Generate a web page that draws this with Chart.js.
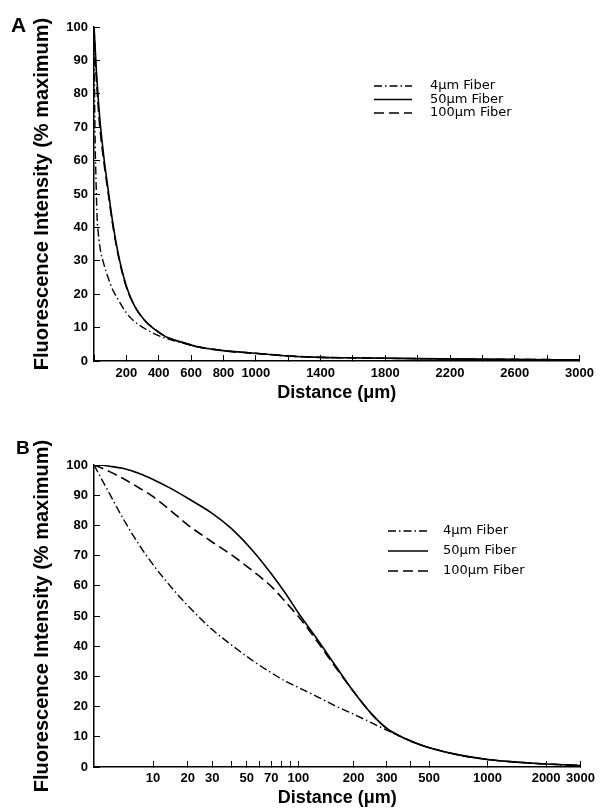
<!DOCTYPE html>
<html>
<head>
<meta charset="utf-8">
<script src="https://cdn.jsdelivr.net/npm/chart.js@4.4.1/dist/chart.umd.min.js"></script>
<style>
  html, body { margin: 0; padding: 0; background: #fff; }
  canvas { display: block; }
</style>
</head>
<body>
<canvas id="chartA" width="605" height="405"></canvas>
<canvas id="chartB" width="605" height="407"></canvas>
<script>
// series names
const fibers = ["4μm Fiber", "50μm Fiber", "100μm Fiber"];

// panel A : linear distance axis (μm)
const distA = [0, 3, 6, 12, 20, 24, 37, 61, 87, 114, 148, 199, 250, 311, 380, 443, 550, 646, 800, 1000, 1200, 1400, 1700, 2000, 2500, 3000];
const fiber4A = [100, 83, 69, 55, 42, 39.5, 34, 29, 25, 21.5, 18.5, 14.5, 11.8, 9.8, 8, 6.8, 5.4, 4.3, 3.1, 2.3, 1.5, 1.1, 0.9, 0.7, 0.5, 0.35];
const fiber50A = [100, 97.5, 95, 89, 83, 80, 72, 61, 51.5, 42, 32.5, 22.5, 16.5, 12.3, 9.3, 7.3, 5.5, 4.2, 3.1, 2.3, 1.5, 1.1, 0.9, 0.7, 0.5, 0.35];
const fiber100A = [100, 96.5, 93, 87, 80.5, 77.5, 69.5, 59.5, 50.5, 41.3, 32, 22.3, 16.5, 12.3, 9.3, 7.3, 5.5, 4.2, 3.1, 2.3, 1.5, 1.1, 0.9, 0.7, 0.5, 0.35];
const ticksA = [0, 200, 400, 600, 800, 1000, 1200, 1400, 1600, 1800, 2000, 2200, 2400, 2600, 2800, 3000];
const labelsA = [200, 400, 600, 800, 1000, 1400, 1800, 2200, 2600, 3000];

// panel B : log(distance + 10) axis
const distB = [0, 1, 2, 4, 7, 10, 15, 20, 30, 40, 55, 70, 85, 100, 130, 160, 200, 250, 300, 400, 500, 700, 1000, 1500, 2000, 3000];
const fiber4B = [100, 95, 90.5, 82.5, 73.5, 67, 59.2, 53.5, 45.5, 40.5, 35, 31.2, 28.3, 26.3, 23, 20.2, 17.5, 14.6, 12.2, 8.6, 6.4, 4.1, 2.5, 1.5, 1, 0.5];
const fiber50B = [100, 99.9, 99.6, 98.9, 97.2, 95.2, 92, 89, 84, 79, 71.3, 64, 57.3, 51, 41.5, 33.5, 25, 17.5, 12.8, 8.6, 6.4, 4.1, 2.5, 1.5, 1, 0.5];
const fiber100B = [100, 98.9, 97.8, 95.6, 92.4, 89.5, 84.5, 80.2, 74.5, 70.3, 64.7, 59.8, 54.5, 49.8, 40.8, 33, 25, 17.5, 12.8, 8.6, 6.4, 4.1, 2.5, 1.5, 1, 0.5];
const ticksB = [10, 20, 30, 40, 50, 60, 70, 80, 90, 100, 200, 300, 400, 500, 1000, 2000, 3000];
const labelsB = [10, 20, 30, 50, 70, 100, 200, 300, 500, 1000, 2000, 3000];

const yTicks = [0, 10, 20, 30, 40, 50, 60, 70, 80, 90, 100];

const logX = d => Math.log10(d + 10);

const styles = [
  { borderDash: [8, 3, 1.5, 3], borderWidth: 1.4 },
  { borderDash: [], borderWidth: 1.6 },
  { borderDash: [10, 5], borderWidth: 1.6 },
];

function makeSets(xs, series, fx) {
  return series.map((vals, i) => ({
    label: fibers[i],
    data: xs.map((d, j) => ({ x: fx(d), y: vals[j] })),
    borderColor: '#000',
    borderWidth: styles[i].borderWidth,
    borderDash: styles[i].borderDash,
    pointRadius: 0,
    fill: false,
    tension: 0.4,
    cubicInterpolationMode: 'monotone',
  }));
}

const legendPlugin = {
  id: 'fiberLegend',
  afterDraw(chart, args, opts) {
    const ctx = chart.ctx;
    ctx.save();
    ctx.fillStyle = '#000';
    ctx.strokeStyle = '#000';
    ctx.textBaseline = 'middle';
    ctx.font = opts.font;
    chart.data.datasets.forEach((ds, i) => {
      const y = opts.y + i * opts.rowGap;
      ctx.beginPath();
      ctx.setLineDash(ds.borderDash);
      ctx.lineWidth = ds.borderWidth;
      ctx.moveTo(opts.x, y);
      ctx.lineTo(opts.x + opts.lineLen, y);
      ctx.stroke();
      ctx.setLineDash([]);
      ctx.fillText(ds.label, opts.textX, y);
    });
    ctx.font = opts.letterFont;
    ctx.fillText(opts.letter, opts.letterX, opts.letterY);
    ctx.restore();
  }
};

const tickFont = { family: 'Liberation Sans, Arial, sans-serif', size: 13, weight: 'bold' };

function yScale() {
  return {
    min: 0, max: 100,
    afterBuildTicks: s => { s.ticks = yTicks.map(v => ({ value: v })); },
    afterFit: s => { s.width = 94; },
    grid: { drawOnChartArea: false, tickLength: -6, color: '#000', lineWidth: 1 },
    border: { color: '#000', width: 1.5 },
    ticks: { color: '#000', font: tickFont, padding: 12 },
    title: {
      display: true, text: 'Fluorescence Intensity (% maximum)', color: '#000',
      font: { family: 'Liberation Sans, Arial, sans-serif', size: 20, weight: 'bold' },
      padding: { top: 30, bottom: 0 }
    }
  };
}

function xTitle(pb) {
  return {
    display: true, text: 'Distance (μm)', color: '#000',
    font: { family: 'Liberation Sans, Arial, sans-serif', size: 18, weight: 'bold' },
    padding: { top: 0, bottom: pb }
  };
}

const chartA = new Chart(document.getElementById('chartA'), {
  type: 'line',
  data: { datasets: makeSets(distA, [fiber4A, fiber50A, fiber100A], d => d) },
  options: {
    responsive: false, animation: false, devicePixelRatio: 1,
    layout: { padding: { top: 27, right: 19, left: 0, bottom: 0 } },
    plugins: {
      legend: { display: false }, tooltip: { enabled: false },
      fiberLegend: {
        x: 374, lineLen: 38, textX: 430, y: 86, rowGap: 13.5,
        font: '13px "DejaVu Sans", sans-serif',
        letter: 'A', letterX: 11, letterY: 26, letterFont: 'bold 21px "Liberation Sans", Arial, sans-serif'
      }
    },
    scales: {
      x: {
        type: 'linear', min: 0, max: 3000,
        afterBuildTicks: s => { s.ticks = ticksA.map(v => ({ value: v })); },
        afterFit: s => { s.height = 44; },
        grid: { drawOnChartArea: false, tickLength: -6, color: '#000', lineWidth: 1 },
        border: { color: '#000', width: 1.5 },
        ticks: {
          color: '#000', font: tickFont, padding: 11, autoSkip: false, maxRotation: 0,
          callback: v => labelsA.includes(v) ? String(v) : ''
        },
        title: xTitle(1)
      },
      y: yScale()
    }
  },
  plugins: [legendPlugin]
});

const chartB = new Chart(document.getElementById('chartB'), {
  type: 'line',
  data: { datasets: makeSets(distB, [fiber4B, fiber50B, fiber100B], logX) },
  options: {
    responsive: false, animation: false, devicePixelRatio: 1,
    layout: { padding: { top: 60, right: 16, left: 0, bottom: 0 } },
    plugins: {
      legend: { display: false }, tooltip: { enabled: false },
      fiberLegend: {
        x: 388, lineLen: 40, textX: 443, y: 126, rowGap: 20,
        font: '13px "DejaVu Sans", sans-serif',
        letter: 'B', letterX: 16, letterY: 44, letterFont: 'bold 19px "Liberation Sans", Arial, sans-serif'
      }
    },
    scales: {
      x: {
        type: 'linear', min: logX(0), max: logX(3000), bounds: 'data',
        afterBuildTicks: s => { s.ticks = ticksB.map(d => ({ value: logX(d) })); },
        afterFit: s => { s.height = 45; },
        grid: { drawOnChartArea: false, tickLength: -6, color: '#000', lineWidth: 1 },
        border: { color: '#000', width: 1.5 },
        ticks: {
          color: '#000', font: tickFont, padding: 10, autoSkip: false, maxRotation: 0,
          callback: v => {
            const d = Math.round(Math.pow(10, v) - 10);
            return labelsB.includes(d) ? String(d) : '';
          }
        },
        title: xTitle(3)
      },
      y: yScale()
    }
  },
  plugins: [legendPlugin]
});
</script>
</body>
</html>
